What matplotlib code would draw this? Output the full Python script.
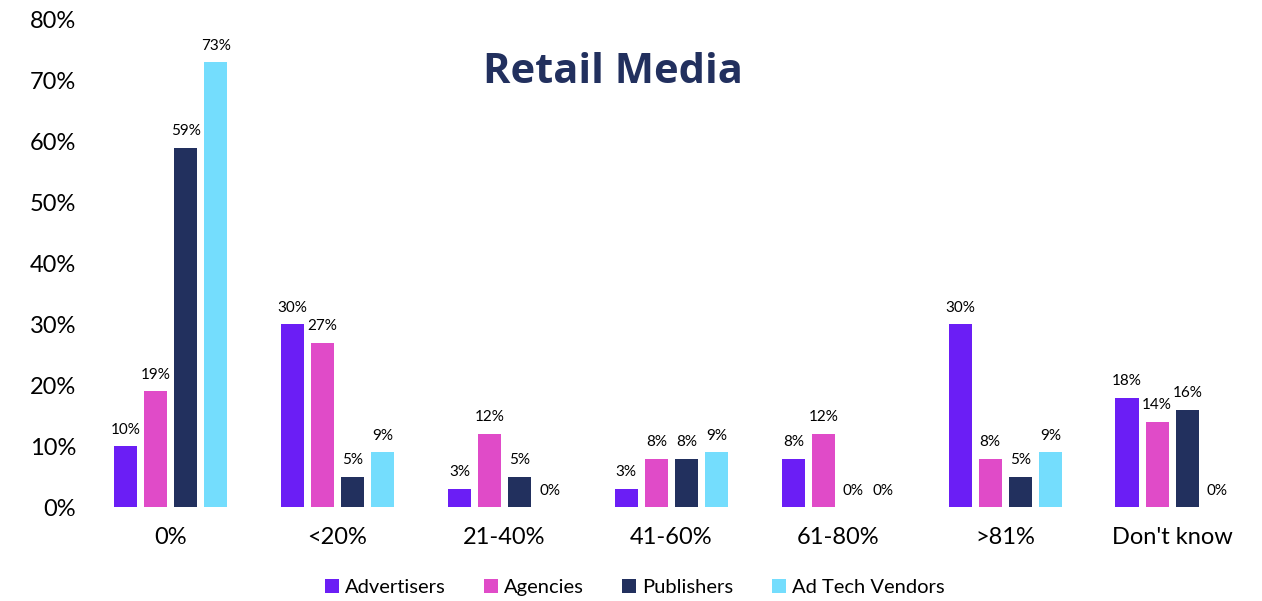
import matplotlib
matplotlib.use("Agg")
import matplotlib.pyplot as plt
import numpy as np

categories = ["0%", "<20%", "21-40%", "41-60%", "61-80%", ">81%", "Don't know"]
advertisers = [10, 30, 3, 3, 8, 30, 18]
agencies = [19, 27, 12, 8, 12, 8, 14]
publishers = [59, 5, 5, 8, 0, 5, 16]
adtech = [73, 9, 0, 9, 0, 9, 0]
series_names = ["Advertisers", "Agencies", "Publishers", "Ad Tech Vendors"]
colors = ["#6B1EF5", "#E04BC8", "#22305E", "#74DDFD"]

plt.rcParams['font.family'] = ['Lato', 'DejaVu Sans']

fig = plt.figure(figsize=(12.62, 6.01), dpi=100)
ax = fig.add_axes([0.069, 0.156, 0.926, 0.811])

x = np.arange(len(categories))
pitch = 0.18
width = 0.14
series = [advertisers, agencies, publishers, adtech]
for i, (vals, name, c) in enumerate(zip(series, series_names, colors)):
    pos = x + (i - 1.5) * pitch
    bars = ax.bar(pos, np.array(vals) / 100, width=width, color=c, label=name)
    for b, v in zip(bars, vals):
        ax.annotate(f"{v}%", (b.get_x() + b.get_width() / 2, b.get_height()),
                    xytext=(0, 7), textcoords="offset points",
                    ha="center", va="bottom", fontsize=11, color="black")

ax.set_xlim(-0.5, len(categories) - 0.5)
ax.set_ylim(0, 0.8)
ax.set_yticks(np.arange(0, 0.81, 0.1))
ax.set_yticklabels([f"{int(round(t*100))}%" for t in np.arange(0, 0.81, 0.1)], fontsize=17)
ax.set_xticks(x)
ax.set_xticklabels(categories, fontsize=17)
ax.tick_params(axis='both', length=0)
ax.tick_params(axis='x', pad=14)
ax.tick_params(axis='y', pad=8)
for s in ax.spines.values():
    s.set_visible(False)

ax.text(0.45, 0.892, "Retail Media", transform=ax.transAxes, ha="center", va="center",
        fontsize=30, fontweight="bold", color="#22305E", family=["Open Sans", "DejaVu Sans"])

fig.legend(loc="center", bbox_to_anchor=(0.503, 0.022), ncol=4, frameon=False,
           fontsize=14.5, handlelength=0.7, handleheight=0.7, handletextpad=0.3,
           columnspacing=1.9)

fig.savefig("out.png", dpi=100)
